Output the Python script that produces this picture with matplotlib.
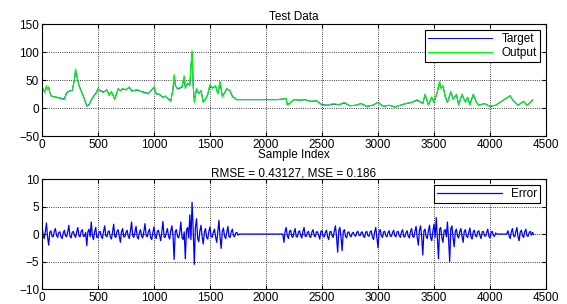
import numpy as np
import matplotlib.pyplot as plt

plt.rcParams['font.family'] = ['Liberation Sans', 'DejaVu Sans']
plt.rcParams['font.size'] = 8.5

# Test data: network output
out_x = [0, 10, 25, 40, 50, 60, 70, 85, 100, 130, 160, 200, 220, 250, 270, 290, 300, 315,
         330, 350, 380, 400, 420, 440, 460, 480, 500, 520, 550, 580, 600, 620, 650, 680,
         700, 720, 750, 780, 800, 850, 900, 950, 1000, 1020, 1050, 1080, 1100, 1130, 1150,
         1170, 1180, 1190, 1210, 1250, 1270, 1280, 1300, 1320, 1330, 1340, 1350, 1360, 1380,
         1400, 1420, 1440, 1460, 1480, 1500, 1520, 1550, 1570, 1590, 1610, 1630, 1650, 1680,
         1700, 1740, 2100, 2180, 2190, 2210, 2230, 2250, 2300, 2350, 2400, 2450, 2500, 2550,
         2600, 2650, 2700, 2750, 2800, 2850, 2900, 2950, 3000, 3050, 3100, 3150, 3200, 3250,
         3300, 3350, 3400, 3420, 3450, 3480, 3500, 3530, 3550, 3560, 3580, 3600, 3620, 3650,
         3670, 3700, 3720, 3750, 3780, 3800, 3820, 3850, 3880, 3900, 3950, 4000, 4050, 4180,
         4200, 4250, 4300, 4330, 4360, 4380]
out_y = [25, 35, 28, 40, 32, 38, 27, 22, 20, 20, 17, 15, 28, 30, 32, 50, 70, 55,
         40, 30, 15, 3, 5, 15, 20, 25, 35, 30, 28, 33, 22, 30, 15, 35,
         30, 35, 32, 38, 30, 33, 28, 25, 38, 25, 25, 18, 22, 15, 12,
         35, 60, 40, 35, 38, 58, 35, 45, 40, 75, 103, 40, 10, 35,
         25, 32, 10, 15, 25, 42, 35, 40, 25, 48, 20, 28, 35, 30,
         20, 15, 15, 17, 5, 8, 12, 15, 14, 15, 12, 13, 5, 5,
         8, 6, 10, 4, 5, 8, 3, 5, 10, 3, 5, 2, 5, 8,
         10, 15, 8, 25, 5, 20, 10, 30, 48, 35, 40, 20, 10, 30,
         15, 25, 5, 25, 10, 20, 5, 25, 10, 5, 8, 3, 5, 22,
         15, 5, 12, 5, 10, 15]
# Target is almost identical to the output
target_y = [26, 34, 29, 39, 33, 37, 28, 21, 21, 19, 18, 16, 27, 31, 31, 51, 68, 54,
            41, 31, 16, 4, 6, 14, 21, 26, 34, 31, 29, 32, 23, 29, 16, 34,
            31, 34, 33, 37, 31, 32, 29, 26, 37, 26, 24, 19, 21, 16, 13,
            34, 57, 41, 34, 37, 55, 36, 44, 41, 72, 98, 41, 12, 34,
            26, 31, 11, 16, 24, 41, 36, 39, 26, 46, 21, 27, 34, 31,
            21, 15, 15, 17, 6, 8, 12, 15, 14, 15, 12, 13, 6, 5,
            7, 6, 9, 4, 5, 8, 3, 5, 10, 3, 5, 2, 5, 8,
            10, 14, 8, 24, 6, 19, 10, 29, 46, 36, 39, 21, 10, 29,
            16, 24, 6, 24, 11, 19, 6, 24, 10, 5, 8, 3, 5, 22,
            15, 5, 12, 5, 10, 14]

# Error, in three recorded stretches (one value every 10 samples)
err1_start = 0
err1 = [1.8, -0.3, -0.8, 0.4, 2.0, -0.5, -2.0, 0.3, 0.6, -0.4, -0.5, 0.5, 1.0, -0.2, -0.6, 0.3,
        0.4, -0.5, -0.8, 0.2, 0.7, -0.3, -0.5, 0.4, 1.6, -0.4, -0.7, 0.3, 0.5, -0.2, -0.6, 0.4,
        1.2, -0.3, -0.5, 0.5, 0.8, -0.4, -0.4, 0.3, -2.1, 0.4, 0.9, -0.5, 2.2, -0.3, -1.0, 0.4,
        1.2, -0.6, -0.6, 0.3, 0.5, -0.4, -0.8, 0.5, 1.5, -0.3, -0.5, 0.4, 0.6, -0.5, -0.9, 0.3,
        1.8, -0.4, -0.6, 0.5, 0.8, -0.3, -1.5, 0.4, 1.0, -0.5, -0.5, 0.3, 0.7, -0.4, -0.8, 0.6,
        2.2, -0.3, -0.6, 0.4, 1.4, -0.5, -0.9, 0.3, 0.8, -0.4, -0.7, 0.5, 1.9, -0.3, -0.5, 0.4,
        0.9, -0.6, -1.0, 0.3, 1.3, -0.4, -0.8, 0.5, 0.7, -0.3, -1.2, 0.4, 2.3, -0.5, -0.6, 0.3,
        1.0, -0.4, -0.9, 0.6, 1.5, -0.3, -4.6, 0.5, 0.8, -0.4, -0.7, 0.3, 2.2, -0.6, -1.0, 0.4,
        -4.5, 0.8, 1.2, -0.7, 3.5, -1.0, 5.8, 0.9, -5.5, 1.2, 2.8, -0.8, -1.4, 0.6, 1.6, -0.5,
        -1.8, 0.4, 1.0, -0.6, -0.9, 0.5, 1.3, -0.4, -0.6, 0.3, 0.9, -0.5, -1.5, 0.4, 2.5, -0.6,
        -2.6, 0.5, 1.1, -0.4, -0.8, 0.3, 1.4, -0.5, -0.6, 0.4, 0.9, -0.3, -0.5, 0.2, 0.3, -0.2]
err2_start = 2160
err2 = [-1.5, 0.4, 1.2, -0.3, -0.8, 0.5, 0.7, -0.4, -0.6, 0.3, 1.0, -0.5, -0.5, 0.4, 0.6, -0.3,
        -0.7, 0.5, 1.2, -0.4, -0.4, 0.3, 0.5, -0.5, -0.6, 0.4, 0.8, -0.3, -0.5, 0.4, 0.4, -0.3,
        -0.9, 0.5, 0.6, -0.4, -0.5, 0.3, 0.7, -0.5, -1.0, 0.4, 0.5, -0.3, -0.6, 0.6, 1.5, -0.5,
        -3.3, 0.7, 1.2, -0.6, -3.0, 0.5, 0.8, -0.4, -0.7, 0.3, 0.4, -0.3, -0.5, 0.2, 0.3, -0.2,
        -0.4, 0.3, 0.5, -0.2, -0.3, 0.3, 0.4, -0.4, -0.6, 0.3, 0.5, -0.3, -0.4, 0.4, 0.6, -0.5,
        -1.0, 0.4, 1.2, -0.6, -2.5, 0.5, 0.8, -0.3, -0.6, 0.4, 0.5, -0.3, -0.5, 0.3, 0.6, -0.4,
        -0.4, 0.3, 0.7, -0.3, -0.5, 0.4, 0.5, -0.3, -0.6, 0.4, 0.8, -0.5, -0.5, 0.3, 0.6, -0.4,
        -0.7, 0.5, 1.0, -0.4, -0.6, 0.5, 1.4, -0.6, -2.0, 0.7, 1.5, -0.5, -3.8, 0.6, 0.9, -0.5,
        -0.8, 0.6, 1.6, -0.7, -1.2, 0.5, 1.8, -0.6, 3.0, -0.8, -4.5, 0.9, 1.2, -0.7, -1.5, 0.6,
        0.8, -0.5, 2.2, -0.9, -5.0, 1.0, 1.5, -0.6, -2.3, 0.5, 0.9, -0.4, -0.7, 0.5, 1.0, -0.4,
        -1.5, 0.5, 0.8, -0.4, -0.6, 0.3, 1.1, -0.5, -0.9, 0.4, 0.7, -0.3, -0.5, 0.4, 0.6, -0.3,
        -0.8, 0.4, 0.5, -0.3, -0.4, 0.3, 0.9, -0.4, -0.7, 0.3, 0.5, -0.3, -0.4, 0.2]
err3_start = 4160
err3 = [0.6, -0.3, -0.8, 0.4, 1.0, -0.3, -0.5, 0.4, 1.2, -0.5, -1.2, 0.4,
        0.7, -0.3, -0.6, 0.4, 0.9, -0.3, -0.4, 0.3, 0.5, -0.2, 0.3, -0.1]

e1x = err1_start + 10 * np.arange(len(err1))
e2x = err2_start + 10 * np.arange(len(err2))
e3x = err3_start + 10 * np.arange(len(err3))
ex = np.concatenate([e1x, [e1x[-1] + 10, err2_start - 10], e2x,
                     [e2x[-1] + 10, err3_start - 10], e3x])
ey = np.concatenate([err1, [0, 0], err2, [0, 0], err3])

fig = plt.figure(figsize=(5.67, 3.04), dpi=100)
ax1 = fig.add_axes([0.074, 0.5526, 0.889, 0.368])
ax2 = fig.add_axes([0.074, 0.049, 0.889, 0.362])

ax1.plot(out_x, target_y, color='blue', lw=0.7, label='Target')
ax1.plot(out_x, out_y, color='lime', lw=0.8, label='Output')
ax1.set_xlim(0, 4500)
ax1.set_ylim(-50, 150)
ax1.set_yticks([-50, 0, 50, 100, 150])
ax1.set_title('Test Data', fontsize=8.5, pad=3)
ax1.set_xlabel('Sample Index', fontsize=8.5, labelpad=-1)

ax2.plot(ex, ey, color='blue', lw=0.9, label='Error')
ax2.set_xlim(0, 4500)
ax2.set_ylim(-10, 10)
ax2.set_yticks([-10, -5, 0, 5, 10])
ax2.set_title('RMSE = 0.43127, MSE = 0.186', fontsize=8.5, pad=2)

for ax in (ax1, ax2):
    ax.set_xticks(range(0, 4501, 500))
    ax.grid(True, color='black', linestyle=':', linewidth=0.6)
    ax.tick_params(direction='in', length=3, labelsize=8.5, pad=2, top=True, right=True)
    leg = ax.legend(loc='upper right', fancybox=False, edgecolor='black',
                    framealpha=1, handlelength=5.5, borderpad=0.25,
                    labelspacing=0.15, borderaxespad=0.5)
    leg.get_frame().set_linewidth(0.8)

fig.savefig('out.png', dpi=100)
